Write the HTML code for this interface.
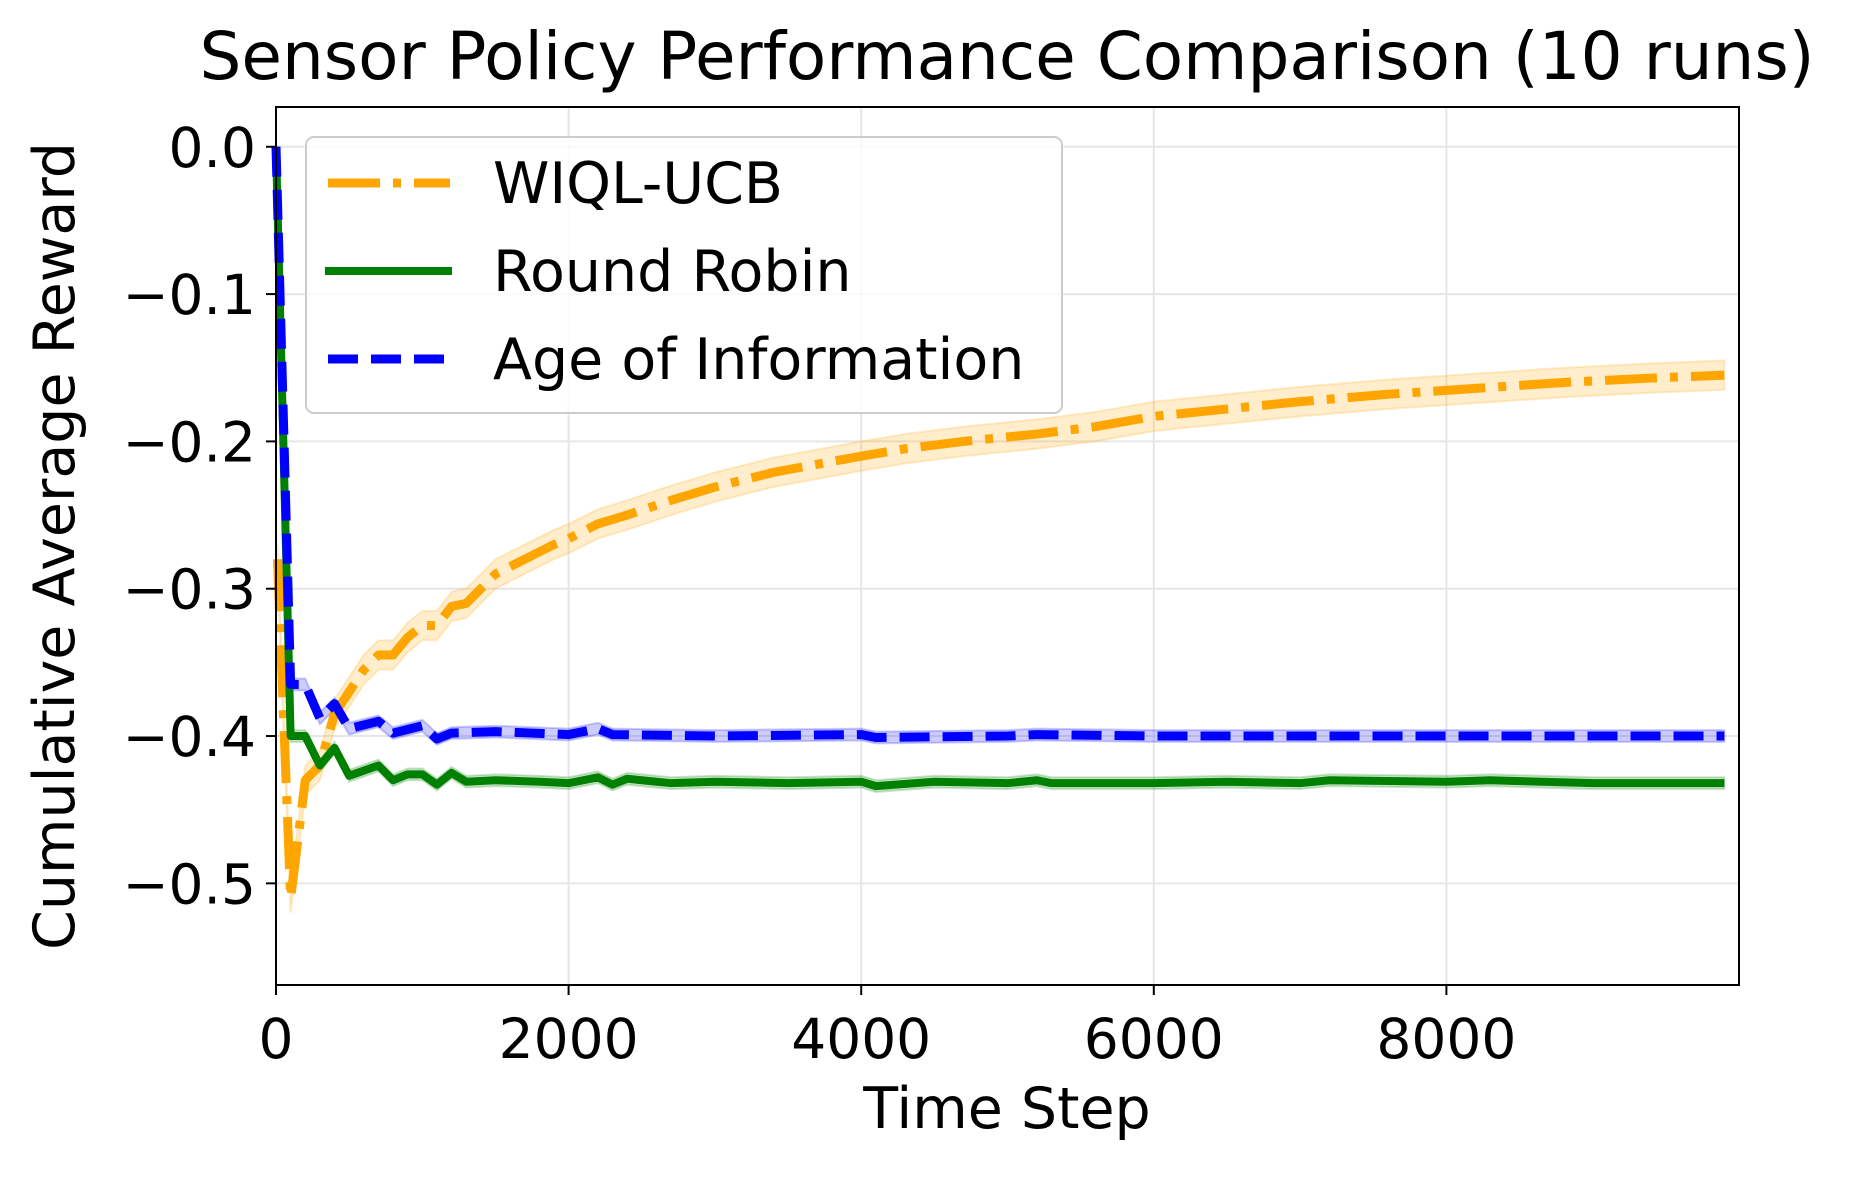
<!DOCTYPE html>
<html><head><meta charset="utf-8"><style>
body{margin:0;background:#fff}
svg text{font-family:"DejaVu Sans","Liberation Sans",sans-serif;fill:#000}
</style></head><body>
<svg id="chart" width="1851" height="1174" viewBox="0 0 1851 1174" xmlns="http://www.w3.org/2000/svg">
<g id="grid"></g>
<g id="bands"></g>
<g id="lines"></g>
<rect x="276" y="107" width="1463" height="878" fill="none" stroke="#000" stroke-width="2"/>
<g id="ticks"></g>
<text x="1007" y="79" font-size="66" text-anchor="middle">Sensor Policy Performance Comparison (10 runs)</text>
<text x="1007" y="1128" font-size="57" text-anchor="middle">Time Step</text>
<text transform="translate(74,546) rotate(-90)" font-size="57" text-anchor="middle">Cumulative Average Reward</text>
<g>
<rect x="306" y="137" width="756" height="276" rx="8" fill="#fff" fill-opacity="0.8" stroke="#ccc" stroke-width="2"/>
<line x1="328" y1="183" x2="450" y2="183" stroke="orange" stroke-width="9" stroke-dasharray="52,13,8,13"/>
<text x="493" y="203" font-size="57">WIQL-UCB</text>
<line x1="325" y1="271" x2="452" y2="271" stroke="green" stroke-width="8"/>
<text x="493" y="291" font-size="57">Round Robin</text>
<line x1="328" y1="359" x2="450" y2="359" stroke="blue" stroke-width="9" stroke-dasharray="30,13"/>
<text x="493" y="379" font-size="57">Age of Information</text>
</g>
</svg>
<script>
const xTicks=[0,2000,4000,6000,8000];
const yTicks=[0,-0.1,-0.2,-0.3,-0.4,-0.5];
const yTickLabels=["0.0","\u22120.1","\u22120.2","\u22120.3","\u22120.4","\u22120.5"];
const wiqlX=[10,100,200,300,400,500,600,700,800,900,1000,1100,1200,1300,1400,1500,1700,1900,2000,2200,2400,2700,3000,3400,4000,4300,4700,5200,5600,6000,6500,7000,7600,8200,8800,9400,9900];
const wiqlY=[-0.28,-0.51,-0.43,-0.42,-0.385,-0.37,-0.355,-0.345,-0.345,-0.333,-0.325,-0.325,-0.312,-0.31,-0.3,-0.29,-0.28,-0.27,-0.266,-0.256,-0.25,-0.24,-0.231,-0.221,-0.21,-0.205,-0.2,-0.195,-0.19,-0.183,-0.178,-0.173,-0.168,-0.164,-0.16,-0.157,-0.155];
const rrX=[0,100,200,300,400,500,700,800,900,1000,1100,1200,1300,1500,1800,2000,2200,2300,2400,2700,3000,3500,4000,4100,4500,5000,5200,5300,6000,6500,7000,7200,8000,8300,9000,9900];
const rrY=[0,-0.4,-0.4,-0.42,-0.408,-0.427,-0.42,-0.43,-0.426,-0.426,-0.433,-0.425,-0.431,-0.43,-0.431,-0.432,-0.428,-0.433,-0.429,-0.432,-0.431,-0.432,-0.431,-0.434,-0.431,-0.432,-0.43,-0.432,-0.432,-0.431,-0.432,-0.43,-0.431,-0.43,-0.432,-0.432];
const aoiX=[0,100,200,300,400,500,700,800,1000,1100,1200,1500,2000,2200,2300,3000,4000,4100,5000,5200,6000,7000,8000,9000,9900];
const aoiY=[0,-0.365,-0.365,-0.388,-0.378,-0.395,-0.39,-0.398,-0.393,-0.402,-0.398,-0.397,-0.399,-0.395,-0.399,-0.4,-0.399,-0.401,-0.4,-0.399,-0.4,-0.4,-0.4,-0.4,-0.4];
const wiqlBand=0.01, rrBand=0.004, aoiBand=0.004;
const X0=276,X1=1739,Y0=107,Y1=985,XMIN=0,XMAX=10000,YMAX=0.027,YMIN=-0.569;
const sx=v=>X0+(v-XMIN)/(XMAX-XMIN)*(X1-X0);
const sy=v=>Y0+(YMAX-v)/(YMAX-YMIN)*(Y1-Y0);
const NS="http://www.w3.org/2000/svg";
function mk(tag,parent,attrs){const e=document.createElementNS(NS,tag);for(const k in attrs)e.setAttribute(k,attrs[k]);document.getElementById(parent).appendChild(e);return e;}
xTicks.forEach(t=>{
 const g=mk('line','grid',{x1:sx(t),x2:sx(t),y1:Y0,y2:Y1,stroke:'#e6e6e6','stroke-width':2});
 
 
 const tk=mk('line','ticks',{x1:sx(t),x2:sx(t),y1:Y1,y2:Y1+10,stroke:'#000','stroke-width':2});
 
 
 const tl=mk('text','ticks',{x:sx(t),y:Y1+73,'font-size':55,'text-anchor':'middle'});
 tl.textContent=String(t);
 
 
});
yTicks.forEach((t,i)=>{
 const g=mk('line','grid',{x1:X0,x2:X1,y1:sy(t),y2:sy(t),stroke:'#e6e6e6','stroke-width':2});
 
 
 const tk=mk('line','ticks',{x1:X0-10,x2:X0,y1:sy(t),y2:sy(t),stroke:'#000','stroke-width':2});
 
 
 const tl=mk('text','ticks',{x:X0-20,y:sy(t)+20,'font-size':55,'text-anchor':'end'});
 tl.textContent=yTickLabels[i];
 
 
});
function band(xs,ys,w,color,name){
 let d='M'+xs.map((x,i)=>sx(x)+','+sy(ys[i]+w)).join('L');
 d+='L'+xs.slice().reverse().map((x,j)=>{const i=xs.length-1-j;return sx(x)+','+sy(ys[i]-w);}).join('L')+'Z';
 const p=mk('path','bands',{d:d,fill:color,'fill-opacity':0.2,stroke:color,'stroke-opacity':0.2,'stroke-width':2});
 
 
}
function line(xs,ys,color,dash,name,w){
 const p=mk('polyline','lines',{points:xs.map((x,i)=>sx(x)+','+sy(ys[i])).join(' '),fill:'none',stroke:color,'stroke-width':w,'stroke-linejoin':'round'});
 if(dash)p.setAttribute('stroke-dasharray',dash);
 
 
}
band(wiqlX,wiqlY,wiqlBand,'orange','wiql-band');
band(rrX,rrY,rrBand,'green','round-robin-band');
band(aoiX,aoiY,aoiBand,'blue','aoi-band');
line(wiqlX,wiqlY,'orange','52,13,8,13','wiql-line',9);
line(rrX,rrY,'green',null,'round-robin-line',8);
line(aoiX,aoiY,'blue','30,13','aoi-line',9);
</script>
</body></html>
